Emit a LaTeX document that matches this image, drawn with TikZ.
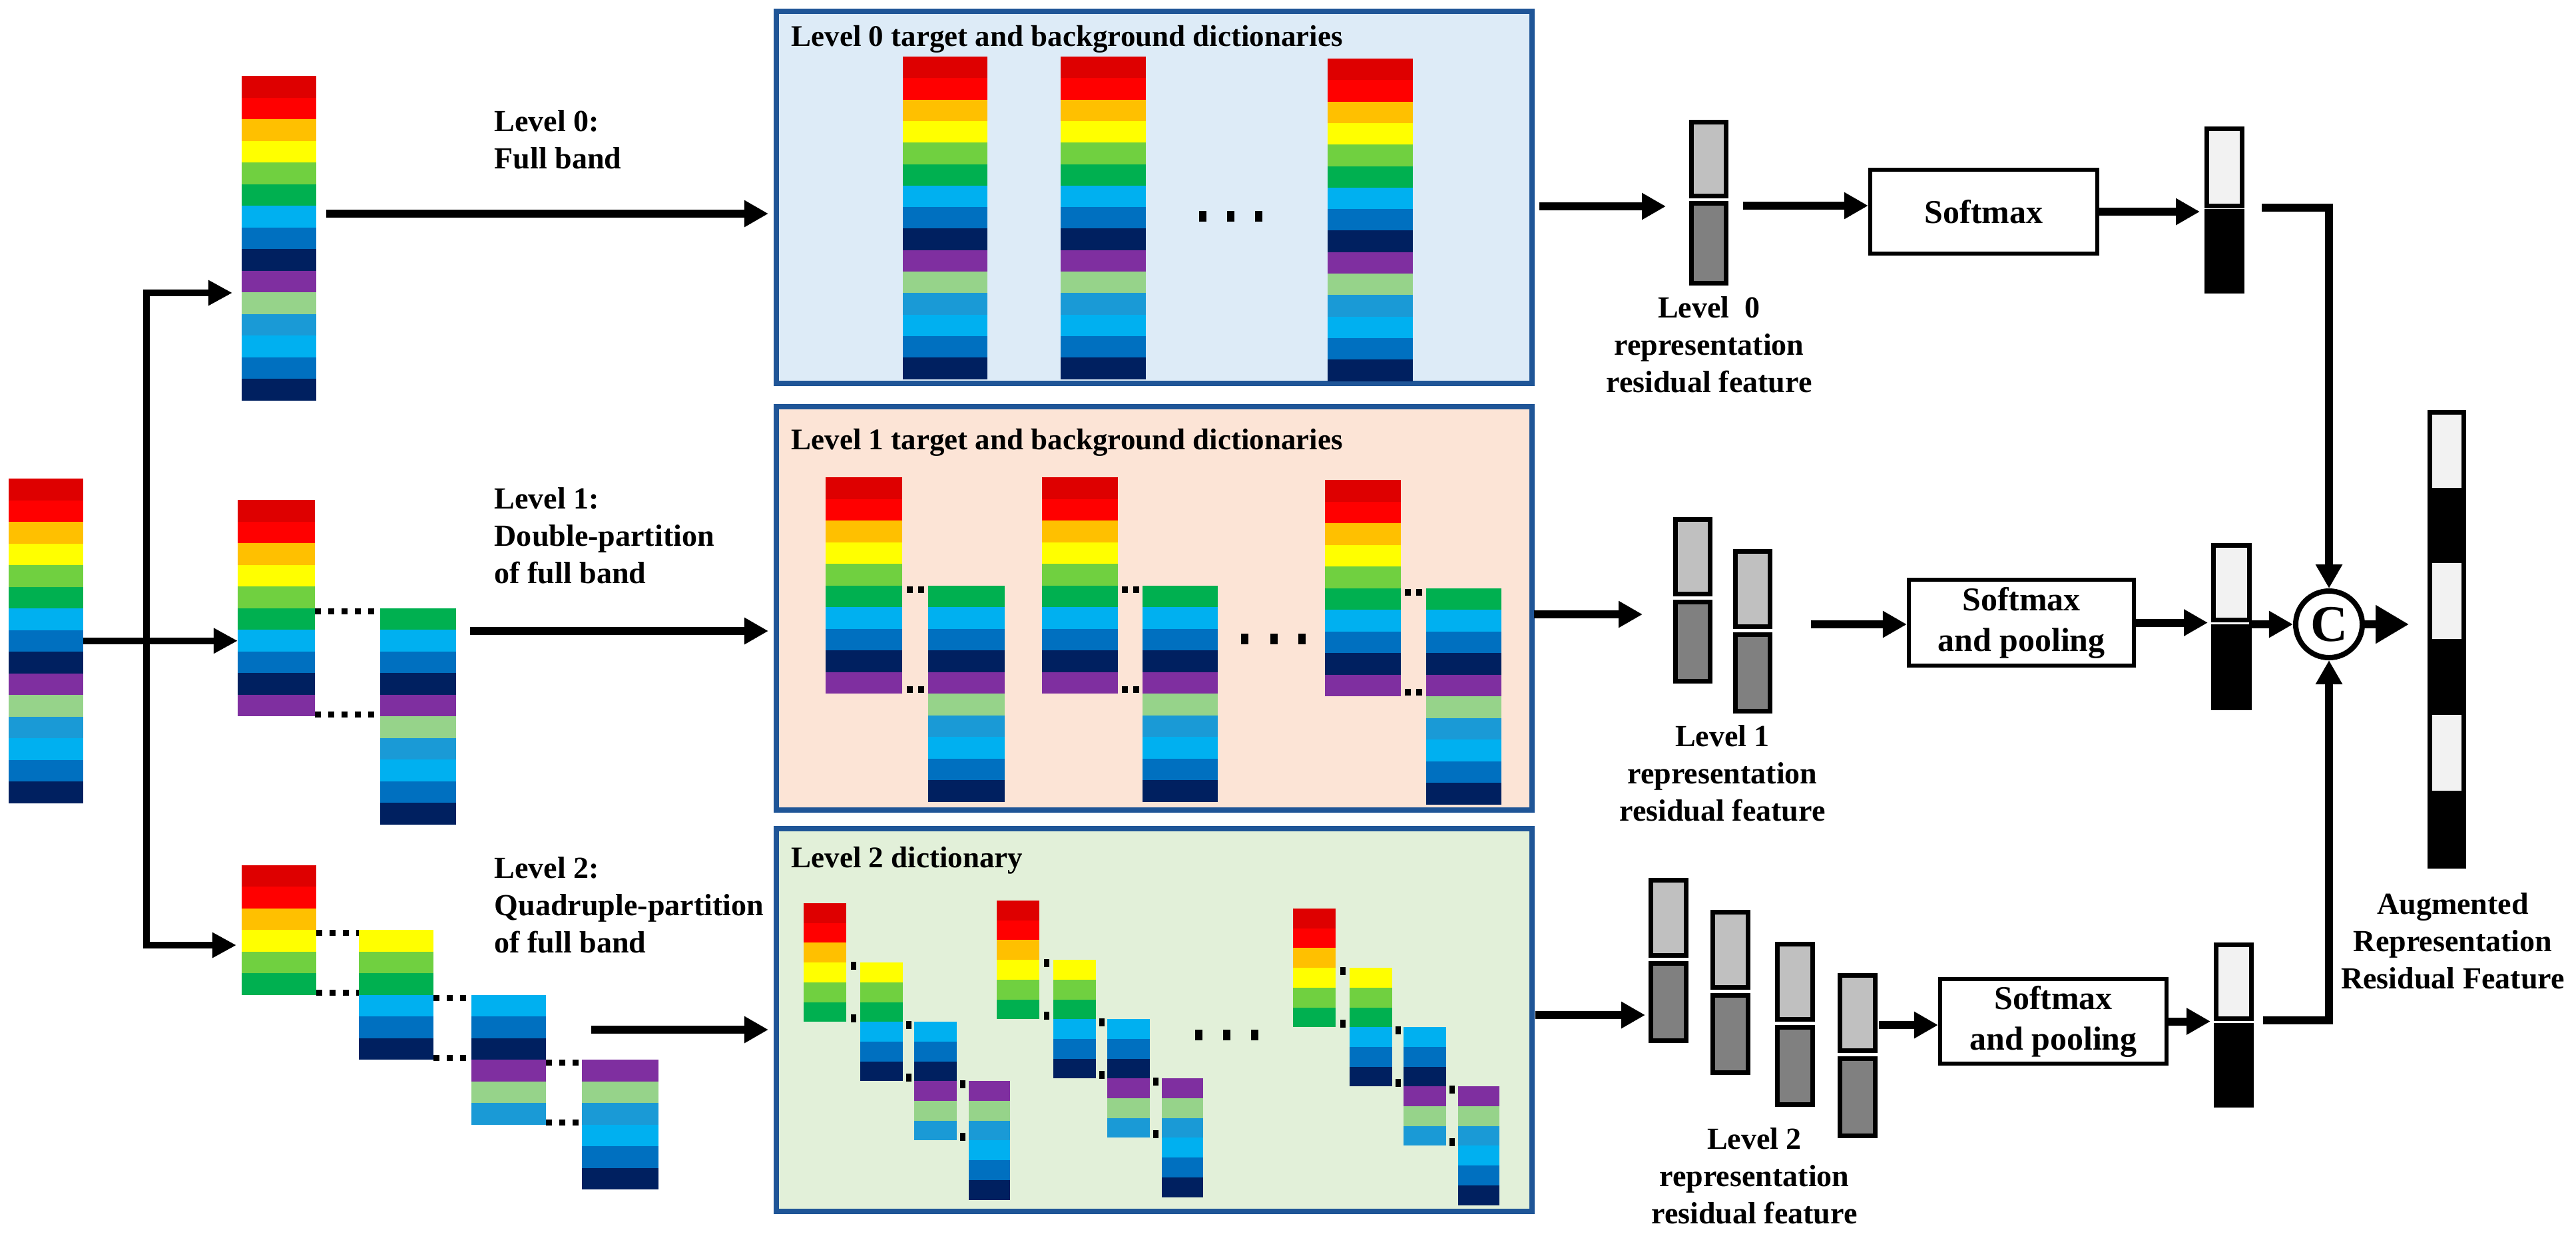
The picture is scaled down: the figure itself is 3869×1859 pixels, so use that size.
\documentclass[tikz,border=0pt]{standalone}
\usepackage{fontspec}
\setmainfont{Liberation Serif}
\usetikzlibrary{arrows.meta,calc}
\definecolor{b1}{HTML}{DE0000}
\definecolor{b2}{HTML}{FF0000}
\definecolor{b3}{HTML}{FFC000}
\definecolor{b4}{HTML}{FFFF00}
\definecolor{b5}{HTML}{70D040}
\definecolor{b6}{HTML}{00B050}
\definecolor{b7}{HTML}{00B0F0}
\definecolor{b8}{HTML}{0070C0}
\definecolor{b9}{HTML}{002060}
\definecolor{b10}{HTML}{7F2FA0}
\definecolor{b11}{HTML}{96D38A}
\definecolor{b12}{HTML}{1A9AD6}
\colorlet{b13}{b7}\colorlet{b14}{b8}\colorlet{b15}{b9}
\definecolor{bx0}{HTML}{DDEBF7}
\definecolor{bx1}{HTML}{FCE4D6}
\definecolor{bx2}{HTML}{E2F0D9}
\definecolor{bxline}{HTML}{1F5597}
\definecolor{lg}{HTML}{C0C0C0}
\definecolor{dg}{HTML}{808080}
\definecolor{wl}{HTML}{F2F2F2}
\newcommand\labfont{\fontsize{13.1pt}{15.8pt}\selectfont\bfseries}
\newcommand\ttlfont{\fontsize{12.8pt}{15pt}\selectfont\bfseries}
\newcommand\smfont{\fontsize{14.2pt}{17.4pt}\selectfont\bfseries}
\newcommand\cfont{\fontsize{22pt}{24pt}\selectfont\bfseries}
% band column: name, x, ytop, width, band height, first, last
\newcommand\bandcol[7]{%
  \node[inner sep=0pt,outer sep=0pt,minimum width={#4*0.01cm},minimum height={(#7-#6+1)*#5*0.01cm},anchor=north west] (#1) at ({#2},{#3}) {};
  \foreach \bandi in {#6,...,#7}{\fill[fill=b\bandi] ({#2},{#3+(\bandi-#6)*#5}) rectangle ++(#4,#5);}%
}
% feature box: name, x, ytop, w, h, fill
\newcommand\featr[6]{%
  \node[draw,line width=0.07cm,fill=#6,inner sep=0pt,outer sep=0pt,minimum width={#4*0.01cm},minimum height={#5*0.01cm},anchor=north west] (#1) at (#2,#3) {};}
\newcommand\ltwogroup[3]{%
  \bandcol{#1a}{1207+#2}{1357+#3}{64}{29.7}{1}{6}
  \bandcol{#1b}{1292+#2}{1446.1+#3}{64}{29.7}{4}{9}
  \bandcol{#1c}{1373+#2}{1535.2+#3}{64}{29.7}{7}{12}
  \bandcol{#1d}{1455+#2}{1624.3+#3}{62}{29.7}{10}{15}
  \foreach \gx/\gy in {1281.5/1451,1281.5/1530,1364.5/1540,1364.5/1619,1446/1629,1446/1708}
    {\fill ({\gx+#2-4},{\gy+#3-6}) rectangle ++(8,12);}%
}
\newcommand\pdots[3]{%
  \path (#1.east |- 0,#3) coordinate (pa) (#2.west |- 0,#3) coordinate (pb);
  \fill ($(pa)!0.5!(pb)+(-13,-5)$) rectangle ++(9,10);
  \fill ($(pa)!0.5!(pb)+(4,-5)$) rectangle ++(9,10);}
\tikzset{
  arr/.style={line width=0.12cm,-{Triangle[length=0.36cm,width=0.38cm]}},
  bigarr/.style={line width=0.12cm,-{Triangle[length=0.5cm,width=0.55cm]}},
  tline/.style={line width=0.1cm,-{Triangle[length=0.36cm,width=0.36cm]}},
  dotl/.style={line width=0.09cm,dash pattern=on 0.09cm off 0.11cm},
  dbox/.style={draw=bxline,line width=0.08cm,inner sep=0pt,outer sep=0pt,anchor=north west},
  smbox/.style={draw,line width=0.06cm,align=center,font=\smfont,inner sep=0pt},
  lab/.style={font=\labfont,inner sep=0pt}
}
\begin{document}
\begin{tikzpicture}[x=0.01cm,y=-0.01cm]
\useasboundingbox (0,0) rectangle (3869,1859);
\fill[white] (0,0) rectangle (3869,1859);
% ---- left columns
\bandcol{inp}{13}{719}{112}{32.5}{1}{15}
\bandcol{c0}{363}{114}{112}{32.5}{1}{15}
\bandcol{c1a}{357}{751}{116}{32.5}{1}{10}
\bandcol{c1b}{571}{913.5}{114}{32.5}{6}{15}
\bandcol{c2a}{363}{1299.5}{112}{32.5}{1}{6}
\bandcol{c2b}{539}{1397}{112}{32.5}{4}{9}
\bandcol{c2c}{708}{1494.5}{112}{32.5}{7}{12}
\bandcol{c2d}{874}{1592}{115}{32.5}{10}{15}
\draw[dotl] (c1a.east |- 0,918) -- (c1b.west |- 0,918);
\draw[dotl] (c1a.east |- 0,1073) -- (c1b.west |- 0,1073);
\draw[dotl] (c2a.east |- 0,1401) -- (c2b.west |- 0,1401);
\draw[dotl] (c2a.east |- 0,1491) -- (c2b.west |- 0,1491);
\draw[dotl] (c2b.east |- 0,1499) -- (c2c.west |- 0,1499);
\draw[dotl] (c2b.east |- 0,1589) -- (c2c.west |- 0,1589);
\draw[dotl] (c2c.east |- 0,1596) -- (c2d.west |- 0,1596);
\draw[dotl] (c2c.east |- 0,1686) -- (c2d.west |- 0,1686);
% ---- tree
\coordinate (jn) at (220,963);
\draw[tline] (inp.east) -- (c1a.west |- inp.east);
\draw[tline] (jn) |- ($(c0.west |- 0,440)+(-14,0)$);
\draw[tline] (jn) |- ($(c2a.west |- 0,1420)+(-8,0)$);
% ---- level labels (anchor = baseline of last line)
\node[lab,anchor=base west,align=left] (lab0) at (742,253) {Level 0:\\Full band};
\node[lab,anchor=base west,align=left] (lab1) at (742,876) {Level 1:\\Double-partition\\of full band};
\node[lab,anchor=base west,align=left] (lab2) at (742,1431) {Level 2:\\Quadruple-partition\\of full band};
% ---- boxes
\node[dbox,fill=bx0,minimum width=11.34cm,minimum height=5.59cm] (box0) at (1166,17) {};
\node[dbox,fill=bx1,minimum width=11.34cm,minimum height=6.06cm] (box1) at (1166,611) {};
\node[dbox,fill=bx2,minimum width=11.34cm,minimum height=5.75cm] (box2) at (1166,1245) {};
\node[anchor=base west,font=\ttlfont,inner sep=0pt] (t0) at (1188,69) {Level 0 target and background dictionaries};
\node[anchor=base west,font=\ttlfont,inner sep=0pt] (t1) at (1188,675) {Level 1 target and background dictionaries};
\node[anchor=base west,font=\ttlfont,inner sep=0pt] (t2) at (1188,1303) {Level 2 dictionary};
% level arrows
\draw[arr,shorten >=0.12cm] ($(c0.east |- 0,321)+(15,0)$) -- (box0.west |- 0,321);
\draw[arr,shorten >=0.12cm] ($(c1b.east |- 0,948)+(21,0)$) -- (box1.west |- 0,948);
\draw[arr,shorten >=0.12cm] ($(c2c.east |- 0,1547)+(68,0)$) -- (box2.west |- 0,1547);
% box 0 content
\bandcol{d0a}{1356}{85}{127}{32.3}{1}{15}
\bandcol{d0b}{1593}{85}{128}{32.3}{1}{15}
\bandcol{d0c}{1994}{88}{128}{32.3}{1}{15}
\foreach \xx in {1806,1848,1890} \fill (\xx-5.5,317) rectangle (\xx+5.5,333);
% box 1 content
\bandcol{d1a}{1240}{717}{115}{32.5}{1}{10}
\bandcol{d1b}{1394}{879.5}{115}{32.5}{6}{15}
\bandcol{d1c}{1565}{717}{114}{32.5}{1}{10}
\bandcol{d1d}{1716}{879.5}{113}{32.5}{6}{15}
\bandcol{d1e}{1990}{721}{114}{32.5}{1}{10}
\bandcol{d1f}{2142}{883.5}{113}{32.5}{6}{15}
\pdots{d1a}{d1b}{886}
\pdots{d1a}{d1b}{1036}
\pdots{d1c}{d1d}{886}
\pdots{d1c}{d1d}{1036}
\pdots{d1e}{d1f}{890}
\pdots{d1e}{d1f}{1040}
\foreach \xx in {1869,1913,1955} \fill (\xx-5.5,952) rectangle (\xx+5.5,968);
% box 2 content
\ltwogroup{ga}{0}{0}
\ltwogroup{gb}{290}{(-4)}
\ltwogroup{gc}{735}{8}
\foreach \xx in {1800,1842,1884} \fill (\xx-5.5,1547) rectangle (\xx+5.5,1563);
% ---- features
\featr{f0a}{2540}{183}{52}{111}{lg}
\featr{f0b}{2540}{305}{52}{120}{dg}
\featr{f1a}{2516}{780}{52}{112}{lg}
\featr{f1b}{2516}{904}{52}{119}{dg}
\featr{f1c}{2606}{828}{52}{113}{lg}
\featr{f1d}{2606}{953}{52}{115}{dg}
\featr{f2a}{2479}{1322}{53}{113}{lg}
\featr{f2b}{2479}{1447}{53}{116}{dg}
\featr{f2c}{2572}{1370}{53}{113}{lg}
\featr{f2d}{2572}{1495}{53}{116}{dg}
\featr{f2e}{2669}{1418}{53}{113}{lg}
\featr{f2f}{2669}{1543}{53}{116}{dg}
\featr{f2g}{2763}{1465}{53}{113}{lg}
\featr{f2h}{2763}{1590}{53}{116}{dg}
\node[lab,anchor=base,align=center] (r0) at (2567,589) {Level~~0\\representation\\residual feature};
\node[lab,anchor=base,align=center] (r1) at (2587,1233) {Level 1\\representation\\residual feature};
\node[lab,anchor=base,align=center] (r2) at (2635,1838) {Level 2\\representation\\residual feature};
\draw[arr] ($(box0.east |- 0,310)+(11,0)$) -- ($(f0a.west |- 0,310)+(-38,0)$);
\draw[arr] ($(box1.east |- 0,923)+(3,0)$) -- ($(f1a.west |- 0,923)+(-49,0)$);
\draw[arr] ($(box2.east |- 0,1525)+(5,0)$) -- ($(f2a.west |- 0,1525)+(-8,0)$);
% ---- softmax
\node[smbox,minimum width=3.41cm,minimum height=1.26cm] (s0) at (2979.5,318) {Softmax};
\node[smbox,minimum width=3.38cm,minimum height=1.29cm] (s1) at (3036,935.5) {Softmax\\and pooling};
\node[smbox,minimum width=3.40cm,minimum height=1.27cm] (s2) at (3084,1534.5) {Softmax\\and pooling};
\draw[arr] ($(f0a.east |- 0,309)+(26,0)$) -- (s0.west |- 0,309);
\draw[arr] ($(f1c.east |- 0,938)+(62,0)$) -- (s1.west |- 0,938);
\draw[arr] ($(f2g.east |- 0,1540)+(6,0)$) -- (s2.west |- 0,1540);
% ---- outputs
\featr{o0a}{3314}{193}{53}{116}{wl}
\featr{o0b}{3314}{317}{53}{120}{black}
\featr{o1a}{3324}{819}{54}{112}{wl}
\featr{o1b}{3324}{941}{54}{122}{black}
\featr{o2a}{3328}{1419}{53}{111}{wl}
\featr{o2b}{3328}{1540}{53}{120}{black}
\draw[arr] (s0.east) -- ($(o0a.west |- s0.east)+(-10,0)$);
\draw[arr] (s1.east) -- ($(o1a.west |- s1.east)+(-8,0)$);
\draw[arr] (s2.east) -- ($(o2a.west |- s2.east)+(-8,0)$);
\node[circle,draw,line width=0.08cm,minimum size=1.0cm,inner sep=0pt,font=\cfont] (cc) at (3498,938) {C};
\draw[arr] ($(o0a.south east)+(30,3)$) -| (cc.north);
\draw[arr] ($(o1a.south east)+(0,7)$) -- (cc.west);
\draw[arr] ($(o2a.south east)+(18,3)$) -| (cc.south);
% augmented
\foreach \k in {0,...,5} {\ifodd\k\def\augc{black}\else\def\augc{wl}\fi
  \fill[fill=\augc] (3649,{619+\k*113.7}) rectangle ++(51,113.7);}
\node[draw,line width=0.07cm,inner sep=0pt,outer sep=0pt,minimum width=0.51cm,minimum height=6.82cm,anchor=north west] (aug) at (3649,619) {};
\draw[bigarr] (cc.east) -- ($(cc.east -| aug.west)+(-31,0)$);
\node[lab,anchor=base,align=center] (auglab) at (3684,1485) {Augmented\\Representation\\Residual Feature};
\end{tikzpicture}
\end{document}
